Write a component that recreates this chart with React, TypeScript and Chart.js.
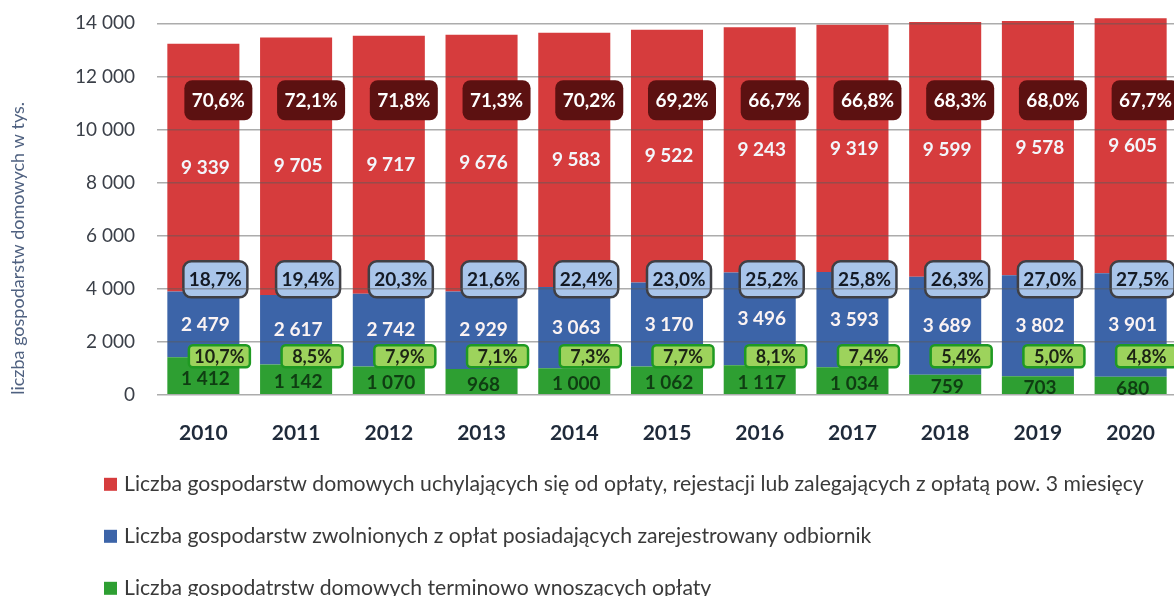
import React, { useEffect, useRef } from 'react';
import { Chart, registerables } from 'chart.js';
Chart.register(...registerables);

const years = ['2010', '2011', '2012', '2013', '2014', '2015', '2016', '2017', '2018', '2019', '2020'];
const greenValues = [1412, 1142, 1070, 968, 1000, 1062, 1117, 1034, 759, 703, 680];
const blueValues = [2479, 2617, 2742, 2929, 3063, 3170, 3496, 3593, 3689, 3802, 3901];
const redValues = [9339, 9705, 9717, 9676, 9583, 9522, 9243, 9319, 9599, 9578, 9605];
const redPct = ['70,6%', '72,1%', '71,8%', '71,3%', '70,2%', '69,2%', '66,7%', '66,8%', '68,3%', '68,0%', '67,7%'];
const bluePct = ['18,7%', '19,4%', '20,3%', '21,6%', '22,4%', '23,0%', '25,2%', '25,8%', '26,3%', '27,0%', '27,5%'];
const greenPct = ['10,7%', '8,5%', '7,9%', '7,1%', '7,3%', '7,7%', '8,1%', '7,4%', '5,4%', '5,0%', '4,8%'];
const yTicks = [0, 2000, 4000, 6000, 8000, 10000, 12000, 14000];

const labelRed = 'Liczba gospodarstw domowych uchylających się od opłaty, rejestacji lub zalegających z opłatą pow. 3 miesięcy';
const labelBlue = 'Liczba gospodarstw zwolnionych z opłat posiadających zarejestrowany odbiornik';
const labelGreen = 'Liczba gospodatrstw domowych terminowo wnoszących opłaty';
const yTitle = 'liczba gospodarstw domowych w tys.';

const RED = '#d63c3d';
const BLUE = '#3c64a8';
const GREEN = '#2e9f32';

const fmt = (n: number) => n.toString().replace(/\B(?=(\d{3})+(?!\d))/g, ' ');

const FONT = 'Lato, "Open Sans", sans-serif';

function box(ctx: CanvasRenderingContext2D, cx: number, cy: number, w: number, h: number, fill: string, stroke: string | null, lw: number, r: number) {
  ctx.beginPath();
  (ctx as any).roundRect(cx - w / 2, cy - h / 2, w, h, r);
  ctx.fillStyle = fill;
  ctx.fill();
  if (stroke) {
    ctx.lineWidth = lw;
    ctx.strokeStyle = stroke;
    ctx.stroke();
  }
}

const labelsPlugin = {
  id: 'customLabels',
  afterDatasetsDraw(chart: any) {
    const ctx: CanvasRenderingContext2D = chart.ctx;
    const yScale = chart.scales.y;
    ctx.save();
    ctx.textAlign = 'center';
    ctx.textBaseline = 'middle';
    const valueColors = ['#0f3d12', '#fbf3f3', '#f3f6fb'];
    chart.data.datasets.forEach((ds: any, di: number) => {
      const meta = chart.getDatasetMeta(di);
      meta.data.forEach((el: any, i: number) => {
        const cy = (el.y + el.base) / 2 + (di === 0 ? 3 : 0);
        ctx.font = `bold 19px ${FONT}`;
        ctx.fillStyle = valueColors[di];
        ctx.fillText(fmt(ds.data[i]), el.x + 2, cy);
      });
    });
    const meta0 = chart.getDatasetMeta(0);
    meta0.data.forEach((el: any, i: number) => {
      const x = el.x;
      const yr = yScale.getPixelForValue(11100);
      box(ctx, x + 15, yr, 68, 40, '#5c1111', null, 0, 8);
      ctx.font = `bold 19px ${FONT}`;
      ctx.fillStyle = '#ffffff';
      ctx.fillText(redPct[i], x + 15, yr + 1);
      const yb = yScale.getPixelForValue(4350);
      box(ctx, x + 12, yb, 64, 36, '#a9c5ea', '#3f3f44', 2.5, 8);
      ctx.font = `bold 19px ${FONT}`;
      ctx.fillStyle = '#141a24';
      ctx.fillText(bluePct[i], x + 12, yb + 1);
      const yg = yScale.getPixelForValue(1450);
      box(ctx, x + 16, yg, 61, 22, '#9dd35c', '#1f9a22', 2.5, 4);
      ctx.font = `bold 18px ${FONT}`;
      ctx.fillStyle = '#1b2414';
      ctx.fillText(greenPct[i], x + 16, yg + 1);
    });
    ctx.restore();
  },
  afterDraw(chart: any) {
    const ctx: CanvasRenderingContext2D = chart.ctx;
    const bottom = chart.chartArea.bottom;
    const items = [
      { label: chart.data.datasets[2].label, color: chart.data.datasets[2].backgroundColor },
      { label: chart.data.datasets[1].label, color: chart.data.datasets[1].backgroundColor },
      { label: chart.data.datasets[0].label, color: chart.data.datasets[0].backgroundColor },
    ];
    ctx.save();
    ctx.textAlign = 'left';
    ctx.textBaseline = 'middle';
    ctx.font = `21.2px ${FONT}`;
    items.forEach((it, k) => {
      const cy = bottom + 89 + k * 52;
      ctx.fillStyle = it.color;
      ctx.fillRect(104, cy - 6, 13, 13);
      ctx.fillStyle = '#3a3a3a';
      ctx.fillText(it.label, 124, cy);
    });
    ctx.restore();
  },
};

export default function App() {
  const ref = useRef<HTMLCanvasElement>(null);
  useEffect(() => {
    Chart.defaults.font.family = FONT;
    const chart = new Chart(ref.current!, {
      type: 'bar',
      data: {
        labels: years,
        datasets: [
          { label: labelGreen, data: greenValues, backgroundColor: GREEN },
          { label: labelBlue, data: blueValues, backgroundColor: BLUE },
          { label: labelRed, data: redValues, backgroundColor: RED },
        ],
      },
      options: {
        responsive: false,
        animation: false,
        layout: { padding: { top: 18, right: 13, bottom: 132, left: 0 } },
        datasets: { bar: { barPercentage: 0.777, categoryPercentage: 1 } },
        plugins: { legend: { display: false }, tooltip: { enabled: false } },
        scales: {
          x: {
            stacked: true,
            grid: { display: false },
            border: { display: false },
            ticks: { color: '#1f2a3a', font: { size: 21, weight: 'bold' }, padding: 18 },
          },
          y: {
            stacked: true,
            min: 0,
            max: 14200,
            afterFit: (scale: any) => {
              scale.width = 157;
              scale.paddingTop = 0;
              scale.paddingBottom = 0;
            },
            afterBuildTicks: (scale: any) => {
              scale.ticks = yTicks.map((v) => ({ value: v }));
            },
            ticks: {
              color: '#3a3f48',
              font: { size: 19 },
              padding: 22,
              callback: (v: any) => fmt(Number(v)),
            },
            grid: { color: 'rgba(90,90,90,0.5)', lineWidth: 1.5, drawTicks: false, z: 1 },
            border: { display: false },
            title: {
              display: true,
              text: yTitle,
              align: 'start',
              color: '#4f6180',
              font: { size: 18 },
              padding: { top: 7, bottom: 0 },
            },
          },
        },
      },
      plugins: [labelsPlugin],
    } as any);
    return () => chart.destroy();
  }, []);
  return (
    <div style={{ position: 'fixed', left: 0, top: 0, width: 1174, height: 596, overflow: 'hidden', background: '#fff' }}>
      <canvas ref={ref} width={1190} height={596} style={{ display: 'block' }} />
    </div>
  );
}
